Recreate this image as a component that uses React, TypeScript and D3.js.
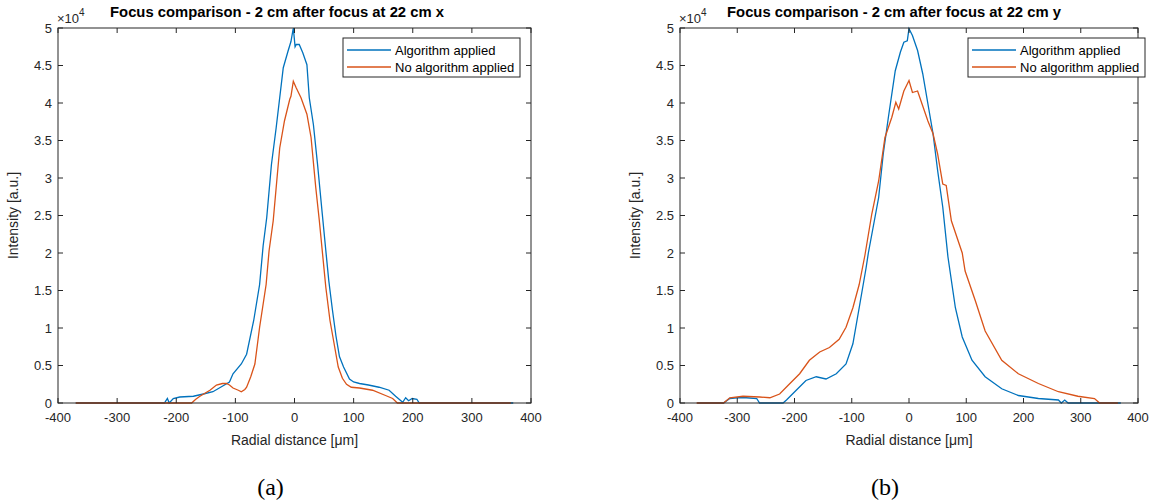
import React from 'react';
import * as d3 from 'd3';

// values, intensity in raw counts (axis shows x10^4)
const xTicks = [-400, -300, -200, -100, 0, 100, 200, 300, 400];
const yTicks = [0, 5000, 10000, 15000, 20000, 25000, 30000, 35000, 40000, 45000, 50000];
const seriesNames = ['Algorithm applied', 'No algorithm applied'];
const titles = ['Focus comparison - 2 cm after focus at 22 cm x', 'Focus comparison - 2 cm after focus at 22 cm y'];
const captions = ['(a)', '(b)'];

const leftAlgo: [number, number][] = [
    [-370, 0], [-220, 0], [-215, 600], [-212, 0], [-205, 600], [-194, 800], [-171, 900], [-154, 1200],
    [-138, 1500], [-125, 2100], [-110, 2800], [-104, 3900], [-90, 5200], [-81, 6500], [-69, 11000],
    [-59, 15800], [-53, 21000], [-47, 24700], [-39, 31800], [-31, 36700], [-19, 44700], [-11, 46900],
    [-6, 48200], [-2, 50000], [1, 47500], [3, 47800], [8, 47800], [14, 46700], [21, 45100], [25, 40700],
    [32, 37100], [39, 31800], [47, 25200], [53, 20300], [58, 16300], [64, 12500], [70, 9000], [76, 6200],
    [83, 4800], [93, 3200], [100, 2800], [110, 2600], [125, 2400], [143, 2100], [160, 1700], [171, 900],
    [183, 100], [188, 700], [193, 300], [199, 600], [207, 500], [211, 0], [370, 0],
];

const leftNoAlgo: [number, number][] = [
    [-370, 0], [-174, 0], [-167, 500], [-160, 900], [-143, 1700], [-132, 2400], [-122, 2600], [-115, 2600],
    [-110, 2400], [-104, 2000], [-95, 1700], [-90, 1500], [-84, 1800], [-81, 2100], [-74, 3500],
    [-67, 5200], [-59, 10100], [-48, 15800], [-43, 20300], [-36, 24300], [-25, 34000], [-17, 37600],
    [-8, 40500], [-6, 40900], [-2, 42900], [3, 42000], [11, 40700], [21, 38500], [28, 35400], [36, 28700],
    [42, 24300], [53, 15400], [60, 11000], [67, 7900], [74, 4800], [81, 3300], [88, 2500], [96, 2100],
    [110, 2000], [132, 1700], [154, 1000], [166, 600], [174, 0], [366, 0],
];

const rightAlgo: [number, number][] = [
    [-370, 0], [-324, 0], [-313, 600], [-300, 700], [-284, 700], [-266, 600], [-261, 0], [-220, 0],
    [-214, 400], [-197, 1700], [-180, 3000], [-162, 3500], [-145, 3200], [-127, 3900], [-110, 5200],
    [-98, 7900], [-87, 12700], [-75, 18000], [-71, 20000], [-53, 27400], [-45, 33200], [-36, 38100],
    [-24, 44300], [-15, 46800], [-9, 48100], [-3, 48300], [0, 49900], [6, 49000], [15, 47000],
    [24, 43900], [33, 39900], [42, 35900], [50, 31000], [59, 26100], [68, 19500], [81, 12700],
    [93, 8800], [110, 5700], [133, 3500], [162, 1900], [191, 1000], [226, 600], [261, 400], [266, 0],
    [272, 400], [278, 0], [370, 0],
];

const rightNoAlgo: [number, number][] = [
    [-371, 0], [-324, 0], [-313, 700], [-290, 900], [-261, 800], [-243, 700], [-226, 1200], [-208, 2600],
    [-191, 3900], [-174, 5700], [-156, 6800], [-139, 7400], [-122, 8500], [-110, 10100], [-98, 12700],
    [-87, 15800], [-77, 19700], [-65, 25200], [-53, 29600], [-42, 35400], [-30, 38100], [-23, 40100],
    [-18, 39200], [-9, 41600], [0, 43000], [6, 41400], [15, 41600], [24, 39600], [33, 37600],
    [42, 35900], [50, 33200], [59, 29200], [65, 29000], [74, 24300], [93, 20000], [98, 17600],
    [116, 13600], [133, 9600], [162, 5700], [191, 3900], [226, 2600], [261, 1500], [295, 900],
    [324, 600], [333, 0], [365, 0],
];

const BLUE = '#0072BD';
const ORANGE = '#D95319';
const AXIS = '#262626';
const FONT = '"Liberation Sans", Arial, Helvetica, sans-serif';

function Panel({ x0, x1, y0, y1, titleX, legendX, title, caption, algo, noAlgo }) {
    const x = d3.scaleLinear().domain([-400, 400]).range([x0, x1]);
    const y = d3.scaleLinear().domain([0, 50000]).range([y1, y0]);
    const line = d3
        .line<[number, number]>()
        .x((d) => x(d[0]))
        .y((d) => y(d[1]));
    const tl = 5;
    const cx = (x0 + x1) / 2;
    const cy = (y0 + y1) / 2;
    const legW = 177;

    return (
        <g fontFamily={FONT}>
            {/* curves */}
            <path d={line(algo)} fill="none" stroke={BLUE} strokeWidth={1.3} />
            <path d={line(noAlgo)} fill="none" stroke={ORANGE} strokeWidth={1.3} />

            {/* box */}
            <rect x={x0} y={y0} width={x1 - x0} height={y1 - y0} fill="none" stroke={AXIS} strokeWidth={1} />

            {/* x ticks */}
            {xTicks.map((t) => (
                <g key={'x' + t}>
                    <line x1={x(t)} x2={x(t)} y1={y1} y2={y1 - tl} stroke={AXIS} />
                    <line x1={x(t)} x2={x(t)} y1={y0} y2={y0 + tl} stroke={AXIS} />
                    <text x={x(t)} y={y1 + 19} textAnchor="middle" fontSize={13} fill={AXIS}>
                        {t}
                    </text>
                </g>
            ))}

            {/* y ticks */}
            {yTicks.map((t) => (
                <g key={'y' + t}>
                    <line x1={x0} x2={x0 + tl} y1={y(t)} y2={y(t)} stroke={AXIS} />
                    <line x1={x1} x2={x1 - tl} y1={y(t)} y2={y(t)} stroke={AXIS} />
                    <text x={x0 - 6} y={y(t) + 4.5} textAnchor="end" fontSize={13} fill={AXIS}>
                        {d3.format('~g')(t / 10000)}
                    </text>
                </g>
            ))}

            {/* exponent */}
            <text x={x0 - 1} y={23} fontSize={13} fill={AXIS}>
                ×10
                <tspan dy={-7} fontSize={10}>
                    4
                </tspan>
            </text>

            {/* title */}
            <text x={titleX} y={17} textAnchor="middle" fontSize={14.8} fontWeight="bold" fill="#000">
                {title}
            </text>

            {/* axis labels */}
            <text x={cx} y={445} textAnchor="middle" fontSize={14} fill={AXIS}>
                Radial distance [μm]
            </text>
            <text
                transform={`translate(${x0 - 40}, ${cy}) rotate(-90)`}
                textAnchor="middle"
                fontSize={14}
                fill={AXIS}
            >
                Intensity [a.u.]
            </text>

            {/* legend */}
            <rect x={legendX} y={38} width={legW} height={39} fill="#fff" stroke={AXIS} strokeWidth={1} />
            {seriesNames.map((name, i) => (
                <g key={name}>
                    <line
                        x1={legendX + 4}
                        x2={legendX + 48}
                        y1={50 + i * 17}
                        y2={50 + i * 17}
                        stroke={i === 0 ? BLUE : ORANGE}
                        strokeWidth={1.3}
                    />
                    <text x={legendX + 52} y={54.5 + i * 17} fontSize={13} fill="#000">
                        {name}
                    </text>
                </g>
            ))}

            {/* caption */}
            <text
                x={cx - 24}
                y={495}
                textAnchor="middle"
                fontSize={24}
                fontFamily='"Liberation Serif", "DejaVu Serif", serif'
                fill="#000"
            >
                {caption}
            </text>
        </g>
    );
}

export default function App() {
    return (
        <svg width={1172} height={504} style={{ position: 'absolute', left: 0, top: 0, background: '#fff' }}>
            <rect width={1172} height={504} fill="#fff" />
            <Panel
                x0={58}
                x1={531}
                y0={28}
                y1={403}
                titleX={277}
                legendX={343}
                title={titles[0]}
                caption={captions[0]}
                algo={leftAlgo}
                noAlgo={leftNoAlgo}
            />
            <Panel
                x0={680}
                x1={1138}
                y0={28}
                y1={403}
                titleX={894}
                legendX={968}
                title={titles[1]}
                caption={captions[1]}
                algo={rightAlgo}
                noAlgo={rightNoAlgo}
            />
        </svg>
    );
}
